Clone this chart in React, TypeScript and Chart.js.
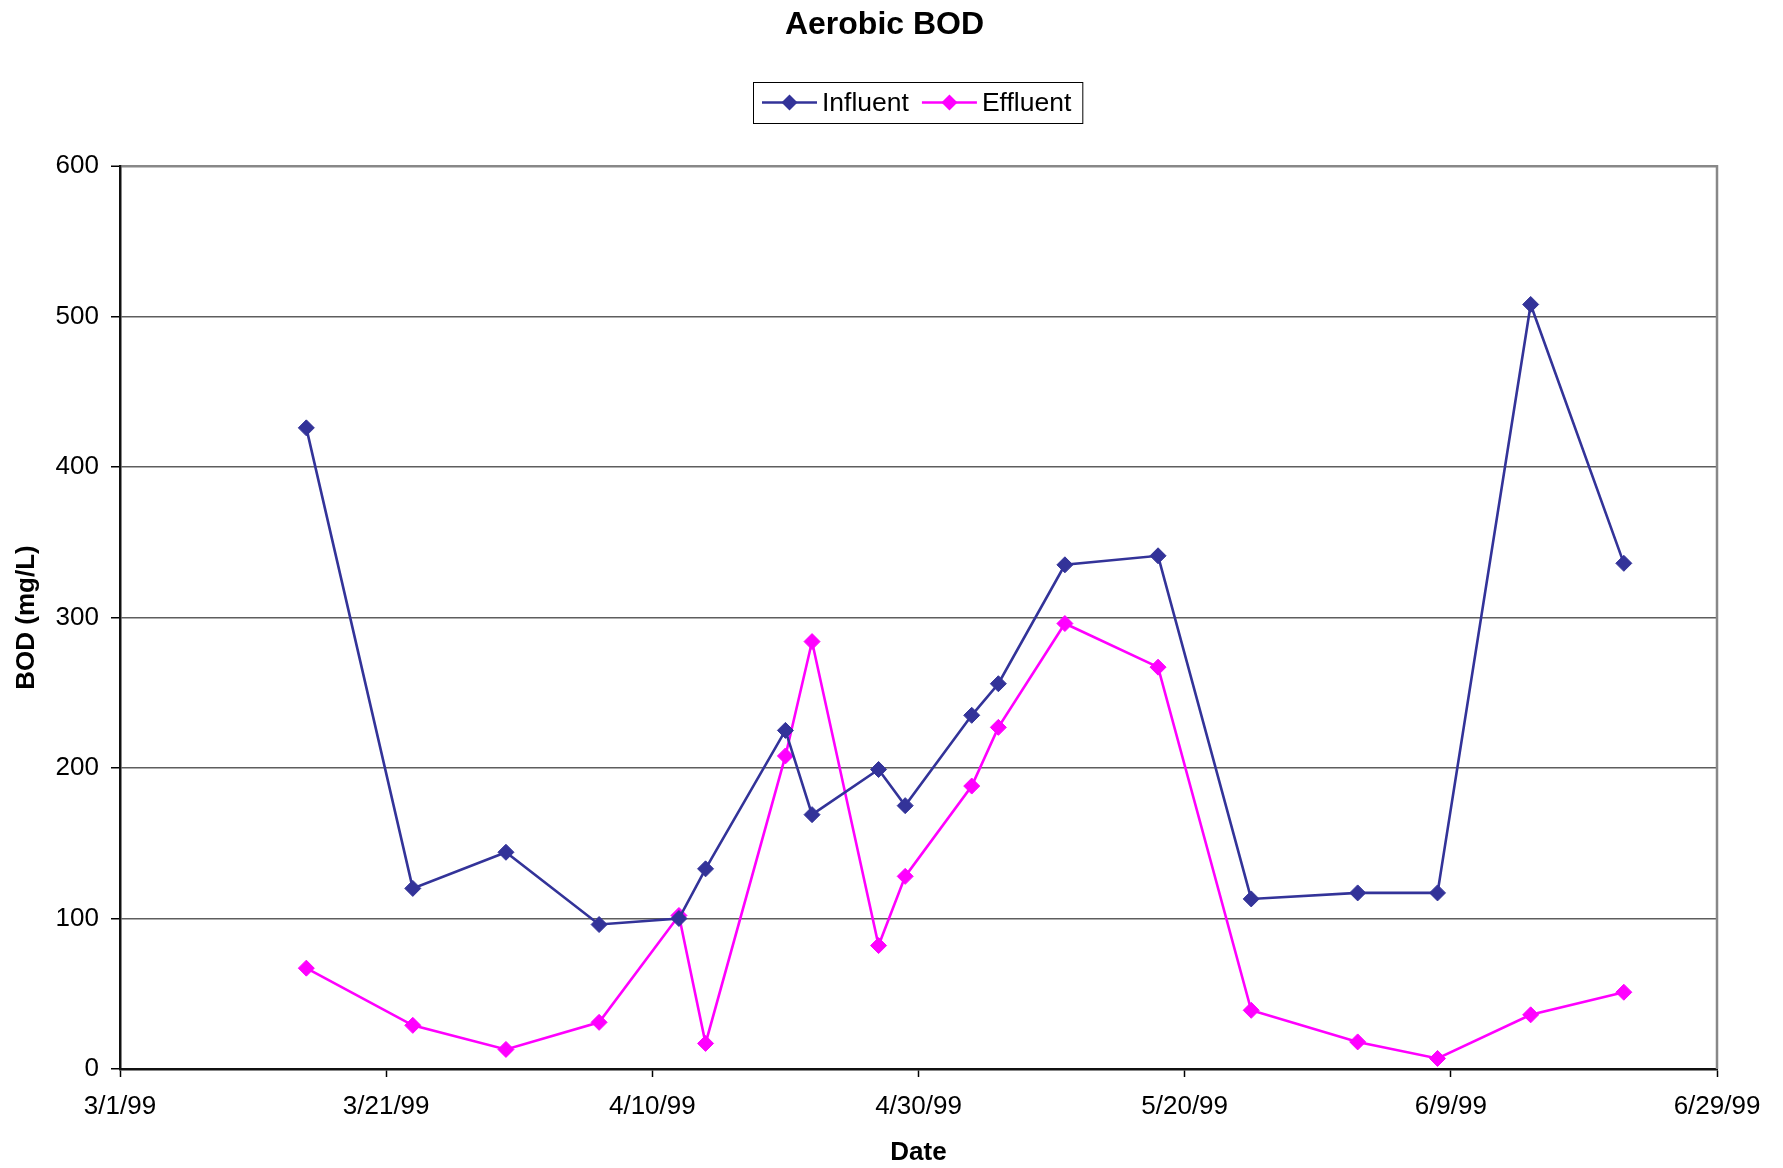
import { useEffect, useRef } from 'react';
import { Chart, registerables } from 'chart.js';

Chart.register(...registerables);

const chartTitle = 'Aerobic BOD';
const xAxisTitle = 'Date';
const yAxisTitle = 'BOD (mg/L)';

const sampleDates = [
  '3/15/99', '3/23/99', '3/30/99', '4/6/99', '4/12/99', '4/14/99', '4/20/99', '4/22/99',
  '4/27/99', '4/29/99', '5/4/99', '5/6/99', '5/11/99', '5/18/99', '5/25/99', '6/2/99',
  '6/8/99', '6/15/99', '6/22/99',
];
const influentValues = [426, 120, 144, 96, 100, 133, 225, 169, 199, 175, 235, 256, 335, 341, 113, 117, 117, 508, 336];
const effluentValues = [67, 29, 13, 31, 102, 17, 208, 284, 82, 128, 188, 227, 296, 267, 39, 18, 7, 36, 51];

const xTickLabels = ['3/1/99', '3/21/99', '4/10/99', '4/30/99', '5/20/99', '6/9/99', '6/29/99'];
const yTickValues = [0, 100, 200, 300, 400, 500, 600];

const FONT = '"Liberation Sans", Arial, sans-serif';
const INFLUENT_COLOR = '#333399';
const EFFLUENT_COLOR = '#FF00FF';

function toDate(s: string): number {
  const [m, d, y] = s.split('/').map(Number);
  return Date.UTC(1900 + y, m - 1, d);
}
const origin = toDate(xTickLabels[0]);
function dayOffset(s: string): number {
  return Math.round((toDate(s) - origin) / 86400000);
}

const xMin = dayOffset(xTickLabels[0]);
const xMax = dayOffset(xTickLabels[xTickLabels.length - 1]);

function drawDiamond(ctx: CanvasRenderingContext2D, x: number, y: number, r: number, color: string) {
  ctx.beginPath();
  ctx.moveTo(x, y - r);
  ctx.lineTo(x + r, y);
  ctx.lineTo(x, y + r);
  ctx.lineTo(x - r, y);
  ctx.closePath();
  ctx.fillStyle = color;
  ctx.fill();
}

const titlePlugin = {
  id: 'customTitle',
  afterDraw(chart: any) {
    const ctx: CanvasRenderingContext2D = chart.ctx;
    ctx.save();
    ctx.font = `bold 32px ${FONT}`;
    ctx.fillStyle = '#000';
    ctx.textAlign = 'center';
    ctx.textBaseline = 'middle';
    ctx.fillText(chartTitle, chart.width / 2 - 7, 25);
    ctx.restore();
  },
};

const boxLegendPlugin = {
  id: 'boxLegend',
  afterDraw(chart: any) {
    const ctx: CanvasRenderingContext2D = chart.ctx;
    const ds = chart.data.datasets;
    ctx.save();
    ctx.font = `26.5px ${FONT}`;
    const padL = 9, lineLen = 55, gapText = 5, gapItem = 13, padR = 11;
    const widths = ds.map((d: any) => ctx.measureText(d.label).width);
    const total =
      padL +
      widths.reduce((a: number, w: number) => a + lineLen + gapText + w, 0) +
      gapItem * (ds.length - 1) +
      padR;
    const cx = (chart.chartArea.left + chart.chartArea.right) / 2 - 1;
    const top = 82;
    const h = 41;
    const left = Math.round(cx - total / 2);
    ctx.fillStyle = '#fff';
    ctx.fillRect(left, top, total, h);
    ctx.strokeStyle = '#000';
    ctx.lineWidth = 1;
    ctx.strokeRect(left + 0.5, top + 0.5, total, h);
    let x = left + padL;
    const cy = top + h / 2;
    ds.forEach((d: any, i: number) => {
      ctx.strokeStyle = d.borderColor;
      ctx.lineWidth = 2.5;
      ctx.beginPath();
      ctx.moveTo(x, cy);
      ctx.lineTo(x + lineLen, cy);
      ctx.stroke();
      drawDiamond(ctx, x + lineLen / 2, cy, 8, d.borderColor);
      x += lineLen + gapText;
      ctx.fillStyle = '#000';
      ctx.textBaseline = 'middle';
      ctx.textAlign = 'left';
      ctx.fillText(d.label, x, cy + 1);
      x += widths[i] + gapItem;
    });
    ctx.restore();
  },
};

const rightBorderPlugin = {
  id: 'rightBorder',
  beforeDatasetsDraw(chart: any) {
    const { ctx, chartArea } = chart;
    ctx.save();
    ctx.strokeStyle = '#888';
    ctx.lineWidth = 2.5;
    ctx.beginPath();
    ctx.moveTo(chartArea.right, chartArea.top - 1);
    ctx.lineTo(chartArea.right, chartArea.bottom);
    ctx.stroke();
    ctx.restore();
  },
};

function makeDataset(label: string, values: number[], xs: number[], color: string) {
  return {
    label,
    data: xs.map((x, i) => ({ x, y: values[i] })),
    showLine: true,
    borderColor: color,
    backgroundColor: color,
    borderWidth: 2.6,
    pointStyle: 'rectRot',
    pointRadius: 8,
    pointBorderWidth: 1,
    pointBackgroundColor: color,
    pointBorderColor: color,
    tension: 0,
  };
}

export default function App() {
  const canvasRef = useRef<HTMLCanvasElement | null>(null);

  useEffect(() => {
    if (!canvasRef.current) return;
    const xs = sampleDates.map(dayOffset);
    const chart = new Chart(canvasRef.current, {
      type: 'scatter',
      data: {
        datasets: [
          makeDataset('Influent', influentValues, xs, INFLUENT_COLOR),
          makeDataset('Effluent', effluentValues, xs, EFFLUENT_COLOR),
        ],
      },
      options: {
        responsive: false,
        animation: false,
        layout: { padding: { left: 0, right: 66, top: 166, bottom: 0 } },
        plugins: {
          legend: { display: false },
          tooltip: { enabled: false },
          title: { display: false },
        },
        scales: {
          x: {
            type: 'linear',
            min: xMin,
            max: xMax,
            afterFit: (s: any) => {
              s.height = 99;
            },
            afterBuildTicks: (s: any) => {
              s.ticks = xTickLabels.map((l) => ({ value: dayOffset(l) }));
            },
            ticks: {
              color: '#000',
              font: { family: FONT, size: 26 },
              padding: 14,
              maxRotation: 0,
              autoSkip: false,
              callback: (v: any) => {
                const lab = xTickLabels.find((l) => dayOffset(l) === v);
                return lab ?? '';
              },
            },
            grid: {
              drawOnChartArea: false,
              drawTicks: true,
              tickLength: 8,
              tickColor: '#000',
              tickWidth: 1.5,
            },
            border: { display: true, color: '#111', width: 2.5 },
            title: {
              display: true,
              text: xAxisTitle,
              color: '#000',
              font: { family: FONT, size: 26, weight: 'bold', lineHeight: 1 },
              padding: { top: 0, bottom: 2 },
            },
          },
          y: {
            type: 'linear',
            min: yTickValues[0],
            max: yTickValues[yTickValues.length - 1],
            afterFit: (s: any) => {
              s.width = 120;
            },
            afterBuildTicks: (s: any) => {
              s.ticks = yTickValues.map((v) => ({ value: v }));
            },
            ticks: {
              color: '#000',
              font: { family: FONT, size: 26 },
              padding: 12,
              autoSkip: false,
              callback: (v: any) => String(v),
            },
            grid: {
              drawOnChartArea: true,
              drawTicks: true,
              tickLength: 9,
              color: (c: any) => (c.tick && c.tick.value === yTickValues[yTickValues.length - 1] ? '#888' : '#5e5e5e'),
              lineWidth: (c: any) => (c.tick && c.tick.value === yTickValues[yTickValues.length - 1] ? 2.5 : 1.5),
              tickColor: '#000',
              tickWidth: 1.5,
            },
            border: { display: true, color: '#111', width: 2.5 },
            title: {
              display: true,
              text: yAxisTitle,
              color: '#000',
              font: { family: FONT, size: 26, weight: 'bold', lineHeight: 1 },
              padding: { top: 14, bottom: 0 },
            },
          },
        },
      },
      plugins: [rightBorderPlugin, titlePlugin, boxLegendPlugin],
    } as any);
    return () => chart.destroy();
  }, []);

  return (
    <div style={{ position: 'absolute', left: 0, top: 0, width: 1783, height: 1168, background: '#fff' }}>
      <canvas ref={canvasRef} width={1783} height={1168} style={{ display: 'block' }} />
    </div>
  );
}
